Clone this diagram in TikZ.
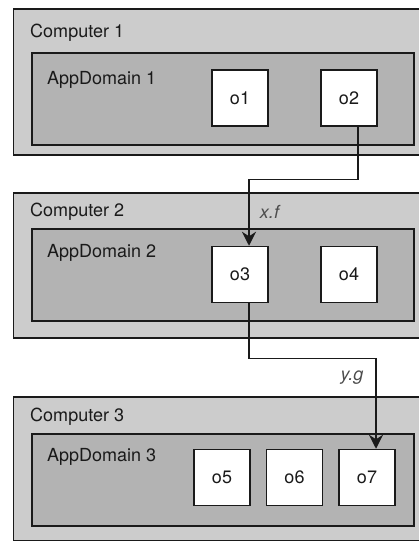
\documentclass[tikz,border=0pt]{standalone}
\usepackage{fontspec}
\setmainfont{TeX Gyre Heros}
\usetikzlibrary{arrows.meta,positioning}

\definecolor{hostgray}{HTML}{CCCCCC}
\definecolor{domaingray}{HTML}{B3B3B3}
\definecolor{inkgray}{HTML}{1A1A1A}

\tikzset{
  computer/.style={draw=inkgray, fill=hostgray, line width=1.5pt, anchor=north west,
    minimum width=420pt, inner sep=0pt},
  appdomain/.style={draw=inkgray, fill=domaingray, line width=1.5pt, anchor=north west,
    minimum width=382pt, minimum height=92pt, inner sep=0pt},
  obj/.style={draw=inkgray, fill=white, line width=1.5pt, minimum size=56pt,
    inner sep=0pt, font=\fontsize{18}{21}\selectfont, text=inkgray},
  title/.style={anchor=west, inner sep=0pt, font=\fontsize{18}{21}\selectfont, text=inkgray},
  call/.style={inner sep=0pt, font=\fontsize{18}{21}\selectfont\itshape, text=black!70},
  link/.style={draw=inkgray, line width=1.4pt, -{Stealth[length=14pt,width=14pt]}}
}

\begin{document}
\begin{tikzpicture}[x=1pt,y=-1pt]
  \clip (0,0) rectangle (419,541);
  \fill[white] (0,0) rectangle (419,541);

  % machines
  \node[computer, minimum height=146pt] (pc1) at (12.5,8) {};
  \node[computer, minimum height=145pt] (pc2) at (12.5,192) {};
  \node[computer, minimum height=144pt] (pc3) at (12.5,396) {};
  \node[title] (pc1lbl) at (30,33) {Computer 1};
  \node[title] (pc2lbl) at (30,212) {Computer 2};
  \node[title] (pc3lbl) at (30,417) {Computer 3};

  % app domains
  \node[appdomain] (ad1) at (31,52) {};
  \node[appdomain] (ad2) at (31,228) {};
  \node[appdomain] (ad3) at (31,433) {};
  \node[title] (ad1lbl) at (47,80) {AppDomain 1};
  \node[title] (ad2lbl) at (47,253) {AppDomain 2};
  \node[title] (ad3lbl) at (47,457) {AppDomain 3};

  % objects
  \node[obj] (o1) at (240,98) {o1};
  \node[obj] (o2) at (349,98) {o2};
  \node[obj] (o3) at (240,274.5) {o3};
  \node[obj] (o4) at (349,274.5) {o4};
  \node[obj] (o5) at (222,477.5) {o5};
  \node[obj] (o6) at (294.5,477.5) {o6};
  \node[obj] (o7) at (367,477.5) {o7};

  % remote calls
  \draw[link] ([xshift=9pt]o2.south) -- ++(0,53) -| ([xshift=9pt]o3.north);
  \draw[link] ([xshift=9pt]o3.south) -- ++(0,55) -| ([xshift=9pt]o7.north);
  \node[call] (xf) at (269.5,212) {x.f};
  \node[call] (yg) at (352,378) {y.g};
\end{tikzpicture}
\end{document}
